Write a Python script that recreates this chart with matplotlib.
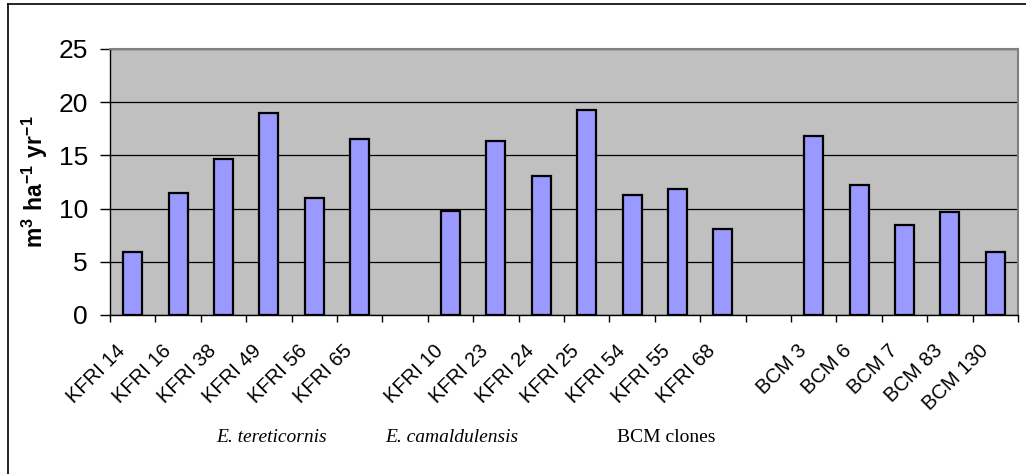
import matplotlib.pyplot as plt
from matplotlib.lines import Line2D
import matplotlib.transforms as mtransforms

plt.rcParams['font.family'] = ['Liberation Sans', 'DejaVu Sans']
plt.rcParams['mathtext.fontset'] = 'custom'
plt.rcParams['mathtext.rm'] = 'Liberation Sans'
plt.rcParams['mathtext.bf'] = 'Liberation Sans:bold'

# categories ('' marks an empty slot between groups)
labels = ['KFRI 14', 'KFRI 16', 'KFRI 38', 'KFRI 49', 'KFRI 56', 'KFRI 65', '',
          'KFRI 10', 'KFRI 23', 'KFRI 24', 'KFRI 25', 'KFRI 54', 'KFRI 55', 'KFRI 68', '',
          'BCM 3', 'BCM 6', 'BCM 7', 'BCM 83', 'BCM 130']
values = [5.9, 11.45, 14.65, 19.0, 11.0, 16.55, None,
          9.75, 16.4, 13.1, 19.25, 11.3, 11.8, 8.1, None,
          16.8, 12.25, 8.45, 9.7, 5.95]
groups = ['E. tereticornis', 'E. camaldulensis', 'BCM clones']
group_italic = [True, True, False]
group_x = [272, 452, 666]  # pixel centres

W, H = 1026, 474
fig = plt.figure(figsize=(W / 100, H / 100), dpi=100)
ax = fig.add_axes([110 / W, 1 - 315 / H, 908 / W, 266 / H])
ax.set_facecolor('#C0C0C0')

xs = [i + 0.5 for i, v in enumerate(values) if v is not None]
hs = [v for v in values if v is not None]
ax.bar(xs, hs, width=0.42, color='#9999FF', edgecolor='black', linewidth=1.6, zorder=3)

ax.set_xlim(0, len(labels))
ax.set_ylim(0, 25)
ax.set_yticks([0, 5, 10, 15, 20, 25])
ax.yaxis.grid(True, color='black', linewidth=0.9, zorder=1)
ax.tick_params(axis='y', direction='out', length=7, width=1, labelsize=19, pad=9)

# category boundaries get tick marks, labels go at slot centres
ax.set_xticks(range(len(labels) + 1))
ax.set_xticklabels([])
ax.tick_params(axis='x', which='major', direction='out', length=5, width=1)
ax.set_xticks([i + 0.5 for i in range(len(labels))], minor=True)
ax.set_xticklabels(labels, minor=True, rotation=45, ha='right', va='top',
                   rotation_mode='anchor', fontsize=14.5)
ax.tick_params(axis='x', which='minor', length=0, pad=19)
offset = mtransforms.ScaledTranslation(-0.17, 0, fig.dpi_scale_trans)
for lab in ax.get_xticklabels(minor=True):
    lab.set_transform(lab.get_transform() + offset)

for s in ['top', 'right']:
    ax.spines[s].set_color('#808080')
    ax.spines[s].set_linewidth(1.5)
for s in ['left', 'bottom']:
    ax.spines[s].set_color('black')
    ax.spines[s].set_linewidth(1)

ax.set_ylabel(r'$\mathbf{m^3\ ha^{-1}\ yr^{-1}}$', fontsize=16.5, labelpad=4)
ax.yaxis.set_label_coords(-0.066, 0.5)

for name, it, gx in zip(groups, group_italic, group_x):
    fig.text(gx / W, 1 - 438 / H, name, family='Liberation Serif',
             style='italic' if it else 'normal', fontsize=14, ha='center', va='center')

# outer frame (left and top edges visible)
fig.add_artist(Line2D([8 / W, 8 / W], [0, 1 - 4 / H], transform=fig.transFigure, color='black', lw=1.2))
fig.add_artist(Line2D([8 / W, 1], [1 - 4 / H, 1 - 4 / H], transform=fig.transFigure, color='black', lw=1.2))

fig.savefig('out.png', dpi=100)
